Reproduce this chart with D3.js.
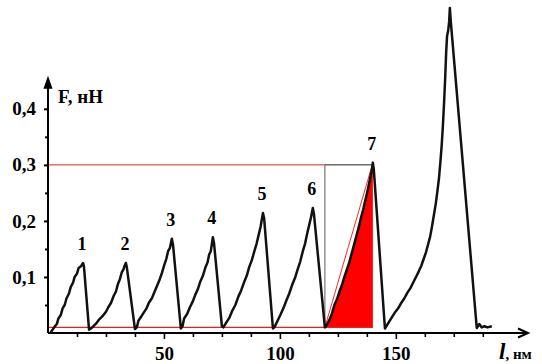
<!DOCTYPE html>
<html>
<head>
<meta charset="utf-8">
<script src="https://cdn.jsdelivr.net/npm/d3@7"></script>
<style>
  html, body { margin: 0; padding: 0; background: #fff; }
</style>
</head>
<body>
<script>
// force (нН) vs. indentation depth l (нм)
const cycle1 = [[1,0.000],[2,0.006],[3,0.012],[3.8,0.016],[4.5,0.026],[5.5,0.032],[6.3,0.044],[7.2,0.050],[8,0.062],[9,0.070],[9.8,0.082],[10.8,0.090],[11.5,0.100],[12.5,0.106],[13.2,0.116],[14.2,0.119],[15.1,0.125],[15.5,0.119],[17.7,0.006]];
const cycle2 = [[18.5,0.008],[19.5,0.012],[21,0.018],[22,0.024],[23.5,0.030],[25,0.038],[26,0.046],[27.2,0.054],[28.3,0.066],[29.3,0.074],[30.2,0.088],[31,0.096],[31.8,0.108],[32.6,0.114],[33,0.120],[33.6,0.125],[34,0.117],[37.5,0.007]];
const cycle3 = [[38.3,0.010],[39,0.022],[40,0.028],[41.2,0.036],[42.5,0.044],[43.5,0.054],[44.8,0.062],[46,0.074],[47,0.084],[48.2,0.096],[49.2,0.108],[50.2,0.122],[51,0.132],[51.8,0.146],[52.6,0.152],[53.4,0.168],[53.9,0.158],[57.3,0.008]];
const cycle4 = [[58,0.012],[58.7,0.026],[60,0.034],[61.2,0.046],[62.4,0.056],[63.5,0.068],[64.6,0.078],[65.7,0.092],[66.8,0.102],[67.8,0.116],[68.8,0.126],[69.5,0.140],[70.2,0.146],[70.7,0.160],[71.1,0.171],[71.6,0.160],[75,0.012]];
const cycle5 = [[75.6,0.010],[76.8,0.018],[78.3,0.028],[79.5,0.040],[80.8,0.050],[82,0.064],[83.3,0.076],[84.5,0.090],[85.7,0.102],[86.8,0.118],[87.9,0.130],[89,0.146],[90,0.160],[90.9,0.176],[91.7,0.190],[92.3,0.205],[92.7,0.214],[93.2,0.205],[97,0.008]];
const cycle6 = [[97.6,0.010],[98.8,0.020],[100.2,0.032],[101.5,0.044],[102.8,0.058],[104,0.070],[105.3,0.086],[106.5,0.098],[107.7,0.114],[108.8,0.128],[109.9,0.146],[110.9,0.160],[111.8,0.178],[112.6,0.192],[113.4,0.206],[114.2,0.223],[114.7,0.212],[119.4,0.010]];
const cycle7 = [[120.2,0.014],[121.2,0.022],[122.4,0.034],[123.5,0.050],[124.6,0.060],[125.7,0.074],[126.8,0.086],[127.8,0.100],[128.8,0.112],[129.8,0.124],[130.7,0.138],[131.5,0.150],[132.4,0.164],[133.3,0.178],[134.2,0.192],[135,0.206],[135.9,0.220],[136.8,0.236],[137.6,0.250],[138.4,0.266],[139.1,0.280],[139.7,0.292],[140.1,0.304],[140.5,0.292],[145.3,0.008]];
const cycleBig = [[146.5,0.016],[148,0.026],[149.5,0.036],[151,0.044],[152.4,0.054],[153.7,0.062],[155,0.072],[156.3,0.080],[157.5,0.090],[158.7,0.100],[159.9,0.110],[161,0.120],[162,0.132],[163,0.144],[163.9,0.158],[164.8,0.172],[165.6,0.190],[166.4,0.210],[167.2,0.230],[167.9,0.252],[168.6,0.276],[169.2,0.304],[169.8,0.336],[170.3,0.370],[170.8,0.410],[171.3,0.456],[171.7,0.500],[172.1,0.530],[172.6,0.540],[173,0.556],[173.3,0.580],[173.7,0.556],[184.9,0.009],[186,0.016],[187,0.010],[188.2,0.012],[189.5,0.010],[191.4,0.012]];

const peakLabels = ['1', '2', '3', '4', '5', '6', '7'];
const xMajorTicks = [50, 100, 150];
const xMinorTicks = [12.5, 25, 37.5, 62.5, 75, 87.5, 112.5, 125, 137.5, 162.5, 175, 187.5];
const yMajorTicks = [0.1, 0.2, 0.3, 0.4];
const yMinorTicks = [0.05, 0.15, 0.25, 0.35];

const baseLevel = 0.01;   // red base line
const topLevel = 0.3;     // red level of peak 7
const boxStart = 119.4;   // start of loading 7

const FONT = 'Liberation Serif';

const W = 542, H = 364;
const svg = d3.select('body').append('svg')
  .attr('width', W)
  .attr('height', H);

const x = d3.scaleLinear().domain([0, 207]).range([48, 528]);
const y = d3.scaleLinear().domain([0, 0.455]).range([333, 78]);

const cycles = [cycle1, cycle2, cycle3, cycle4, cycle5, cycle6, cycle7];
const curve = [].concat(...cycles, cycleBig);

const line = d3.line().x(d => x(d[0])).y(d => y(d[1]));

// filled area under loading 7
const rise7 = cycle7.filter(d => d[0] <= 140.1);
const fillPts = [[boxStart, baseLevel]].concat(rise7);
svg.append('path')
  .datum(fillPts)
  .attr('fill', '#ff0000')
  .attr('stroke', 'none')
  .attr('d', d3.area().x(d => x(d[0])).y0(y(baseLevel)).y1(d => y(d[1])));

const peak7 = rise7[rise7.length - 1];

// red guide lines
svg.append('line')
  .attr('x1', x(0)).attr('x2', x(boxStart))
  .attr('y1', y(topLevel)).attr('y2', y(topLevel))
  .attr('stroke', '#e52020').attr('stroke-width', 1);
svg.append('line')
  .attr('x1', x(0)).attr('x2', x(peak7[0]))
  .attr('y1', y(baseLevel)).attr('y2', y(baseLevel))
  .attr('stroke', '#e52020').attr('stroke-width', 1.2);
svg.append('line')
  .attr('x1', x(boxStart)).attr('x2', x(peak7[0]))
  .attr('y1', y(baseLevel)).attr('y2', y(peak7[1]))
  .attr('stroke', '#ff2a2a').attr('stroke-width', 1);

// box around loading 7
svg.append('line')
  .attr('x1', x(boxStart)).attr('x2', x(boxStart))
  .attr('y1', y(topLevel)).attr('y2', y(baseLevel))
  .attr('stroke', '#777').attr('stroke-width', 1.2);
svg.append('line')
  .attr('x1', x(boxStart)).attr('x2', x(peak7[0]))
  .attr('y1', y(topLevel)).attr('y2', y(topLevel))
  .attr('stroke', '#222').attr('stroke-width', 1);

// curve
svg.append('path')
  .datum(curve)
  .attr('fill', 'none')
  .attr('stroke', '#111')
  .attr('stroke-width', 2.5)
  .attr('stroke-linejoin', 'round')
  .attr('d', line);

// peak numbers
svg.append('g')
  .selectAll('text')
  .data(cycles.map((c, i) => ({ p: c.reduce((a, b) => b[1] > a[1] ? b : a), label: peakLabels[i] })))
  .join('text')
  .attr('x', d => x(d.p[0]) - 1)
  .attr('y', d => y(d.p[1]) - 13)
  .attr('text-anchor', 'middle')
  .attr('font-family', FONT)
  .attr('font-weight', 'bold')
  .attr('font-size', 18)
  .text(d => d.label);

// axes
const comma = d => d3.format('.1f')(d).replace('.', ',');

const gx = svg.append('g').attr('transform', `translate(0,${y(0)})`);
gx.call(d3.axisBottom(x).tickValues(xMajorTicks).tickSize(6).tickPadding(8).tickFormat(d3.format('d')));
gx.append('g').call(d3.axisBottom(x).tickValues(xMinorTicks).tickSize(4).tickFormat(''))
  .call(g => g.select('.domain').remove());
gx.attr('font-family', FONT);
gx.selectAll('.domain').attr('d', `M${x(0)},0H${x(207) - 2}`).attr('stroke', '#000').attr('stroke-width', 2);
gx.selectAll('.tick line').attr('stroke', '#000').attr('stroke-width', 1.6);
gx.selectAll('.tick text').attr('font-size', 19).attr('fill', '#000')
  .attr('font-family', FONT).attr('font-weight', 'bold');

const gy = svg.append('g').attr('transform', `translate(${x(0)},0)`);
gy.call(d3.axisLeft(y).tickValues(yMajorTicks).tickSize(4).tickPadding(8).tickFormat(comma));
gy.append('g').call(d3.axisLeft(y).tickValues(yMinorTicks).tickSize(3).tickFormat(''))
  .call(g => g.select('.domain').remove());
gy.attr('font-family', FONT);
gy.selectAll('.domain').attr('d', `M0,${y(0)}V${y(0.455) + 2}`).attr('stroke', '#000').attr('stroke-width', 2);
gy.selectAll('.tick line').attr('stroke', '#000').attr('stroke-width', 2);
gy.selectAll('.tick text').attr('font-size', 19).attr('fill', '#000')
  .attr('font-family', FONT).attr('font-weight', 'bold');

// arrow heads
const xe = x(207), ye = y(0.455);
svg.append('path')
  .attr('d', `M${xe - 10},${y(0) - 4.5}L${xe},${y(0)}L${xe - 10},${y(0) + 4.5}`)
  .attr('fill', 'none').attr('stroke', '#000').attr('stroke-width', 2);
svg.append('path')
  .attr('d', `M${x(0) - 3.5},${ye + 10}L${x(0)},${ye}L${x(0) + 3.5},${ye + 10}Z`)
  .attr('fill', '#000').attr('stroke', '#000').attr('stroke-width', 1.5);

// axis titles
svg.append('text')
  .attr('x', x(0) + 10).attr('y', y(0.4) - 6)
  .attr('font-family', FONT).attr('font-weight', 'bold')
  .attr('font-size', 19)
  .text('F, нН');

const xt = svg.append('text')
  .attr('x', 499).attr('y', 359)
  .attr('font-family', FONT).attr('font-weight', 'bold');
xt.append('tspan').attr('font-size', 23).attr('font-style', 'italic').text('l');
xt.append('tspan').attr('font-size', 15).text(', нм');
</script>
</body>
</html>
